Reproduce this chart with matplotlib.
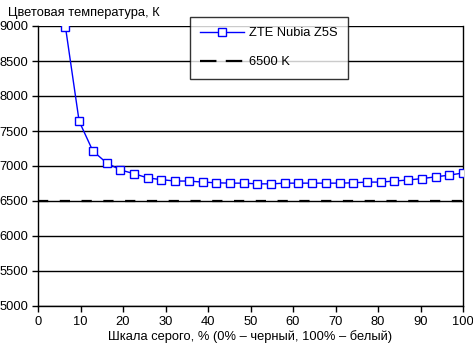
import numpy as np
import matplotlib.pyplot as plt
from matplotlib.lines import Line2D

# grey scale steps (k/31 of full scale, k=2..31)
gray_pct = [100 * k / 31 for k in range(2, 32)]
temp_zte = [8990, 7640, 7215, 7045, 6945, 6890, 6830, 6805, 6785, 6785,
            6770, 6760, 6755, 6755, 6745, 6745, 6755, 6755, 6755, 6755,
            6755, 6760, 6770, 6770, 6785, 6800, 6820, 6845, 6870, 6900]
ref_temp = 6500
x_ticks = list(range(0, 101, 10))
y_ticks = list(range(5000, 9001, 500))

plt.rcParams['font.family'] = ['Liberation Sans', 'DejaVu Sans']
plt.rcParams['font.size'] = 9.3

fig = plt.figure(figsize=(4.73, 3.49), dpi=100)
ax = fig.add_axes([38 / 473, 43 / 349, 425 / 473, 280 / 349])

for yv in y_ticks:
    ax.axhline(yv, color='black', lw=1, zorder=1)

zte_line, = ax.plot(gray_pct, temp_zte, color='#0000ff', lw=1, marker='s',
                    ms=5.8, mfc='white', mec='#0000ff', mew=1, zorder=3)
ref_line, = ax.plot([0, 100], [ref_temp, ref_temp], color='black', lw=1.6,
                    zorder=2)
ref_line.set_dashes([4.6, 5.2])

# legend proxy with longer dashes, like the original
ref_handle = Line2D([], [], color='black', lw=1.6, dashes=[7.4, 4.2])

ax.set_xlim(0, 100)
ax.set_ylim(5000, 9000)
ax.set_xticks(x_ticks)
ax.set_yticks(y_ticks)
ax.tick_params(direction='out', length=4, width=1, pad=3)
for s in ['left', 'bottom', 'right']:
    ax.spines[s].set_linewidth(1)
ax.spines['top'].set_visible(False)

ax.set_xlabel('Шкала серого, % (0% – черный, 100% – белый)', labelpad=2)
fig.text(8 / 473, 1 - 13 / 349, 'Цветовая температура, К', fontsize=9.3,
         va='center', ha='left')

leg = ax.legend([zte_line, ref_handle], ['ZTE Nubia Z5S', '6500 K'],
                loc='upper left', bbox_to_anchor=(152 / 425, 1 + 9 / 280),
                frameon=True, fancybox=False, edgecolor='black',
                handlelength=3.4, borderpad=0.8, labelspacing=1.3,
                handletextpad=0.4, borderaxespad=0)
leg.get_frame().set_linewidth(1)

fig.savefig('out.png', dpi=100)
